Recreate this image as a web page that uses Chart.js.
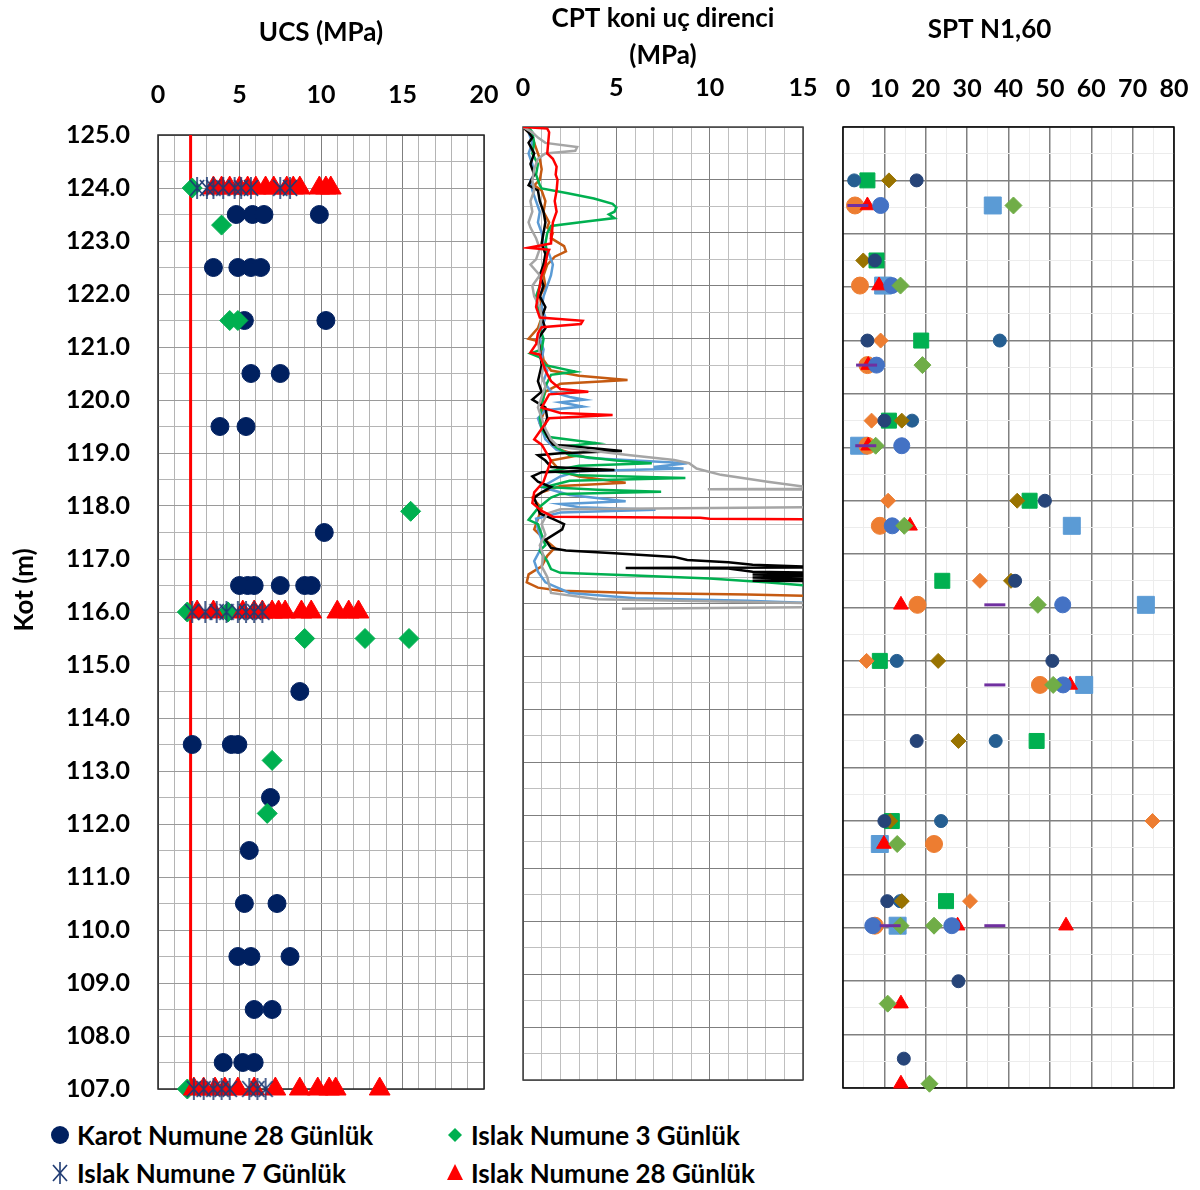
<!DOCTYPE html>
<html>
<head>
<meta charset="utf-8">
<script src="https://cdn.jsdelivr.net/npm/chart.js@4.4.1/dist/chart.umd.min.js"></script>
<style>
  body { margin: 0; background: #fff; width: 1200px; height: 1190px; position: relative; overflow: hidden; font-family: Lato, sans-serif; }
  canvas { position: absolute; top: 0; }
  .lg { position: absolute; font: bold 26px Lato, sans-serif; line-height: 30px; color: #000; white-space: nowrap; }
  .mk { position: absolute; }
</style>
</head>
<body>
<canvas id="ucs" width="500" height="1110" style="left:0"></canvas>
<canvas id="cpt" width="320" height="1110" style="left:500px"></canvas>
<canvas id="spt" width="380" height="1110" style="left:820px"></canvas>

<!-- legend -->
<svg class="mk" style="left:50px;top:1125px" width="20" height="20"><circle cx="10" cy="10" r="9" fill="#002060"/></svg>
<div class="lg" style="left:77px;top:1120px">Karot Numune 28 Günlük</div>
<svg class="mk" style="left:447px;top:1127px" width="16" height="16"><polygon points="8,1 15,8 8,15 1,8" fill="#00B050"/></svg>
<div class="lg" style="left:471px;top:1120px">Islak Numune 3 Günlük</div>
<svg class="mk" style="left:51px;top:1162px" width="18" height="22"><g stroke="#1F3B73" stroke-width="1.6"><line x1="2" y1="3" x2="16" y2="19"/><line x1="16" y1="3" x2="2" y2="19"/><line x1="9" y1="0" x2="9" y2="22"/></g></svg>
<div class="lg" style="left:77px;top:1158px">Islak Numune 7 Günlük</div>
<svg class="mk" style="left:446px;top:1163px" width="18" height="18"><polygon points="9,1 17,17 1,17" fill="#FF0000"/></svg>
<div class="lg" style="left:471px;top:1158px">Islak Numune 28 Günlük</div>

<script>
// ---------- UCS data : [UCS (MPa), Kot (m)] ----------
const karot28 = [
  [4.8,123.5],[5.8,123.5],[6.5,123.5],[9.9,123.5],
  [3.4,122.5],[4.9,122.5],[5.7,122.5],[6.3,122.5],
  [5.3,121.5],[10.3,121.5],
  [5.7,120.5],[7.5,120.5],
  [3.8,119.5],[5.4,119.5],
  [10.2,117.5],
  [5.0,116.5],[5.5,116.5],[5.9,116.5],[7.5,116.5],[9.0,116.5],[9.4,116.5],
  [8.7,114.5],
  [2.1,113.5],[4.5,113.5],[4.9,113.5],
  [6.9,112.5],
  [5.6,111.5],
  [5.3,110.5],[7.3,110.5],
  [4.9,109.5],[5.7,109.5],[8.1,109.5],
  [5.9,108.5],[7.0,108.5],
  [4.0,107.5],[5.2,107.5],[5.9,107.5]
];
const islak3 = [
  [2.1,124.0],[3.9,123.3],[4.4,121.5],[4.9,121.5],[15.5,117.9],
  [1.8,116.0],[4.3,116.0],[9.0,115.5],[12.7,115.5],[15.4,115.5],
  [7.0,113.2],[6.7,112.2],[1.8,107.0]
];
const islak7 = [
  [2.4,124],[3.0,124],[3.4,124],[4.0,124],[4.7,124],[5.1,124],[5.7,124],[7.5,124],[8.1,124],
  [2.1,116],[2.9,116],[3.6,116],[4.2,116],[4.9,116],[5.4,116],[5.9,116],[6.4,116],
  [2.2,107],[2.8,107],[3.4,107],[3.9,107],[4.4,107],[5.6,107],[6.1,107],[6.6,107]
];
const islak28 = [
  [3.4,124],[3.9,124],[4.4,124],[5.0,124],[5.5,124],[6.0,124],[6.6,124],[7.1,124],[7.9,124],[8.3,124],[8.7,124],[9.9,124],[10.3,124],[10.6,124],
  [2.4,116],[3.4,116],[5.2,116],[5.9,116],[6.4,116],[7.0,116],[7.4,116],[7.8,116],[8.8,116],[9.4,116],[11.0,116],[11.7,116],[12.3,116],
  [2.2,107],[2.8,107],[3.5,107],[4.1,107],[4.9,107],[5.9,107],[7.2,107],[8.7,107],[9.8,107],[10.5,107],[10.9,107],[13.6,107]
];
const ucsLimit = [[2,107],[2,125]];

// ---------- CPT data : [qc (MPa), derinlik (m)] ----------
const cptRed = [
  [0,0],[1.3,0.03],[1.4,0.1],[1.35,0.3],[1.3,0.5],[1.6,0.6],[1.8,0.75],[1.75,0.9],[1.85,1.0],[1.8,1.2],
  [1.7,1.4],[1.8,1.6],[1.6,1.8],[1.55,2.0],[1.5,2.2],[0.3,2.28],[1.4,2.32],[1.3,2.4],[1.2,2.6],[1.0,2.8],
  [0.9,3.0],[0.8,3.2],[0.7,3.4],[0.9,3.6],[3.2,3.66],[3.1,3.72],[1.0,3.78],[0.8,3.9],[0.7,4.1],[0.4,4.26],
  [0.9,4.3],[1.0,4.4],[1.2,4.6],[1.5,4.8],[2.0,4.95],[3.5,5.0],[1.4,5.05],[1.0,5.3],[2.0,5.4],[4.8,5.44],
  [1.4,5.5],[1.0,5.7],[0.6,5.9],[1.0,6.0],[1.5,6.3],[1.3,6.5],[1.1,6.7],[0.6,6.9],[0.5,7.1],[1.0,7.25],
  [1.6,7.36],[9.5,7.38],[10.0,7.4],[16,7.41]
];
const cptBlack = [
  [0,0],[0.3,0.1],[0.5,0.2],[0.3,0.3],[0.6,0.5],[0.4,0.7],[0.6,0.9],[0.3,1.1],[0.8,1.2],[0.9,1.4],
  [1.1,1.6],[1.2,1.8],[1.1,2.0],[1.0,2.2],[1.2,2.4],[1.1,2.6],[0.9,2.8],[1.1,3.0],[0.9,3.2],[1.2,3.4],
  [1.0,3.6],[1.2,3.8],[0.8,4.0],[0.9,4.2],[1.0,4.5],[0.8,4.8],[1.0,5.0],[0.5,5.15],[1.2,5.3],[1.3,5.5],
  [1.1,5.7],[1.4,5.9],[1.6,6.0],[4.2,6.08],[5.3,6.12],[2.0,6.16],[0.8,6.2],[1.2,6.3],[1.5,6.42],[4.9,6.48],
  [1.0,6.52],[0.5,6.6],[0.8,6.7],[1.5,6.8],[1.0,6.9],[0.6,7.0],[0.7,7.1],[0.9,7.3],[1.6,7.4],[2.2,7.5],
  [2.1,7.6],[1.2,7.8],[1.5,7.95],[2.3,8.0],[4.9,8.05],[8.1,8.12],[8.8,8.18],[11.0,8.22],[12.3,8.27],[16,8.31],
  [16,8.32],[5.5,8.33],[11.0,8.34],[12.3,8.4],[16,8.42],[12.3,8.45],[16,8.48],[12.3,8.51],[16,8.54],[12.3,8.57],[16,8.58]
];
const cptGreen = [
  [0.3,0],[0.5,0.1],[0.6,0.3],[0.5,0.5],[0.8,0.7],[0.7,0.9],[0.9,1.1],[1.0,1.16],[2.4,1.25],[3.8,1.35],
  [4.8,1.45],[5.0,1.52],[4.9,1.6],[4.6,1.65],[4.9,1.72],[3.5,1.78],[1.5,1.87],[1.3,2.0],[1.2,2.2],[1.3,2.4],
  [1.1,2.6],[1.0,2.8],[0.9,3.0],[0.7,3.2],[0.8,3.4],[1.0,3.6],[0.9,3.8],[1.1,4.0],[1.0,4.2],[0.4,4.28],
  [0.9,4.35],[1.2,4.5],[2.8,4.62],[1.5,4.68],[1.2,4.9],[1.1,5.1],[1.0,5.3],[0.9,5.5],[1.0,5.7],[1.3,5.85],
  [3.9,5.97],[1.8,6.05],[2.5,6.2],[5.0,6.3],[6.9,6.35],[3.0,6.4],[1.5,6.5],[3.0,6.58],[8.7,6.63],[2.5,6.68],
  [1.2,6.8],[4.0,6.85],[7.4,6.89],[2.0,6.93],[1.5,7.0],[0.8,7.2],[0.3,7.42],[0.8,7.5],[1.0,7.7],[1.2,7.9],
  [0.9,8.0],[1.3,8.2],[1.5,8.35],[2.0,8.42],[6.0,8.47],[10,8.53],[13,8.6],[16,8.68]
];
const cptBlue = [
  [0.1,0],[0.3,0.1],[0.5,0.3],[0.3,0.5],[0.5,0.7],[0.6,0.9],[0.4,1.0],[0.5,1.2],[0.7,1.4],[0.9,1.6],
  [0.8,1.8],[1.0,2.0],[1.1,2.2],[1.4,2.4],[1.6,2.6],[1.5,2.8],[1.3,3.0],[1.1,3.2],[1.0,3.4],[1.2,3.6],
  [1.0,3.8],[0.9,4.0],[1.1,4.2],[1.0,4.4],[1.3,4.6],[1.1,4.8],[1.5,5.0],[2.5,5.1],[3.3,5.15],[2.0,5.2],
  [3.2,5.28],[1.2,5.35],[0.8,5.5],[1.0,5.7],[1.2,5.9],[1.8,6.1],[3.5,6.25],[8.8,6.35],[7.0,6.42],[8.6,6.45],
  [3.0,6.5],[2.0,6.6],[1.0,6.8],[2.5,6.95],[5.5,7.07],[2.0,7.12],[3.0,7.18],[7.1,7.23],[2.0,7.28],[0.7,7.4],
  [0.8,7.6],[1.0,7.8],[0.9,8.0],[0.6,8.2],[0.8,8.4],[1.2,8.6],[2.5,8.8],[6,8.9],[12,8.95],[16,9.0]
];
const cptOrange = [
  [0,0],[0.3,0.1],[0.5,0.2],[0.7,0.4],[0.9,0.6],[1.0,0.8],[0.9,1.0],[0.6,1.1],[1.0,1.2],[1.2,1.4],
  [1.1,1.6],[1.4,1.8],[1.3,1.9],[1.6,2.0],[1.5,2.1],[2.2,2.25],[2.3,2.35],[1.7,2.45],[1.3,2.6],[1.1,2.8],
  [1.2,3.0],[0.9,3.2],[1.0,3.4],[1.0,3.6],[0.8,3.8],[0.3,4.0],[0.9,4.05],[1.0,4.2],[1.1,4.4],[1.5,4.6],
  [3.0,4.7],[5.6,4.78],[2.0,4.85],[1.2,5.0],[1.0,5.2],[1.1,5.4],[0.9,5.6],[1.2,5.8],[1.5,5.95],[2.0,6.1],
  [3.0,6.2],[1.5,6.3],[2.0,6.5],[3.0,6.6],[5.5,6.72],[2.0,6.78],[1.0,6.9],[0.5,7.0],[1.0,7.2],[0.8,7.4],
  [0.6,7.6],[1.2,7.8],[1.7,7.95],[1.3,8.1],[1.0,8.3],[0.3,8.45],[0.2,8.6],[0.8,8.7],[2.0,8.76],[6.0,8.8],
  [12,8.83],[16,8.86]
];
const cptGrey = [
  [0,0],[0.5,0.1],[0.8,0.2],[1.2,0.3],[2.9,0.38],[2.8,0.45],[1.2,0.5],[0.8,0.6],[0.6,0.8],[0.5,1.0],
  [0.6,1.2],[0.4,1.4],[0.5,1.6],[0.3,1.8],[0.4,1.9],[0.7,2.1],[0.9,2.3],[0.7,2.5],[0.4,2.6],[0.9,2.8],
  [0.5,3.0],[0.6,3.2],[0.9,3.4],[1.0,3.6],[0.9,3.8],[0.8,4.0],[0.9,4.3],[1.1,4.5],[1.0,4.7],[1.2,4.9],
  [1.0,5.1],[0.8,5.3],[1.0,5.5],[1.2,5.7],[1.5,5.9],[1.9,6.04],[5.5,6.19],[8.1,6.29],[8.9,6.35],[9.3,6.45],
  [10.6,6.57],[13.1,6.7],[15,6.79],[16,6.8],[16,6.83],[9.9,6.84],[16,6.85],[16,7.18],[2.0,7.22],[1.3,7.3],
  [1.0,7.5],[1.2,7.7],[0.9,7.9],[1.1,8.1],[1.0,8.3],[1.3,8.5],[1.5,8.8],[4,8.92],[12,8.97],[16,9.0],
  [16,9.07],[5.3,9.1]
];

// ---------- SPT N1,60 data : [N1,60, derinlik (m)] ----------
const sptA = [[17.8,1.0],[7.7,2.5],[5.9,4.0],[10.0,5.5],[48.8,7.0],[41.6,8.5],[50.6,10.0],[17.8,11.5],[10.0,13.0],[10.7,14.5],[27.9,16.0],[14.7,17.45]];
const sptB = [[2.7,1.0],[37.9,4.0],[16.7,5.5],[13.0,10.0],[36.9,11.5],[23.7,13.0],[13.8,14.5]];
const sptC = [[5.9,1.0],[8.1,2.5],[18.9,4.0],[11.1,5.5],[45.1,7.0],[24.0,8.5],[8.9,10.0],[46.8,11.5],[11.8,13.0],[24.9,14.5]];
const sptD = [[11.1,1.0],[4.9,2.5],[14.2,5.5],[42.1,7.0],[40.6,8.5],[23.0,10.0],[27.9,11.5],[11.4,13.0],[14.2,14.5]];
const sptE = [[9.1,4.0],[6.9,5.5],[10.9,7.0],[33.1,8.5],[5.7,10.0],[74.8,13.0],[30.7,14.5]];
const sptF = [[2.9,1.47],[4.1,2.97],[5.9,4.46],[5.9,5.97],[8.9,7.47],[18.0,8.95],[47.6,10.45],[22.0,13.43],[7.7,14.96]];
const sptG = [[5.9,1.47],[8.7,2.97],[6.1,4.46],[6.1,5.97],[16.2,7.47],[14.0,8.95],[54.9,10.45],[9.9,13.43],[27.7,14.96],[53.9,14.96],[14.0,16.42],[14.0,17.92]];
const sptH = [[9.1,1.47],[11.8,2.97],[8.1,4.46],[14.2,5.97],[11.9,7.47],[53.1,8.95],[53.2,10.45],[7.2,14.96],[26.3,14.96]];
const sptI = [[36.2,1.47],[9.7,2.97],[3.9,5.97],[55.3,7.47],[73.2,8.95],[58.3,10.45],[8.9,13.43],[13.2,14.96]];
const sptJ = [[41.2,1.47],[13.9,2.97],[19.2,4.46],[7.9,5.97],[14.8,7.47],[47.1,8.95],[50.8,10.45],[13.1,13.43],[13.9,14.96],[22.0,14.96],[10.8,16.42],[20.9,17.92]];
const sptK = [[3.6,1.47],[5.7,4.46],[5.5,5.97],[36.7,8.95],[36.7,10.45],[11.4,14.96],[36.7,14.96]];

// ---------- helpers ----------
const pts = arr => arr.map(([x, y]) => ({ x, y }));
const tickFont = { family: 'Lato', size: 25, weight: 'bold' };
const titleFont = { family: 'Lato', size: 26, weight: 'bold' };

// fixed axis box sizes, no extra side padding for the edge labels
const fixH = h => s => { s.height = h; s.paddingLeft = 0; s.paddingRight = 0; };
const fixW = w => s => { s.width = w; s.paddingTop = 0; s.paddingBottom = 0; };

// frame around the plot area (drawn under the markers)
const frame = {
  id: 'frame',
  beforeDatasetsDraw(chart, args, opts) {
    const a = chart.chartArea, ctx = chart.ctx;
    ctx.save();
    ctx.strokeStyle = opts.color;
    ctx.lineWidth = opts.width;
    ctx.strokeRect(a.left, a.top, a.right - a.left, a.bottom - a.top);
    ctx.restore();
  }
};

// excel style star marker: X with a vertical bar
const star = document.createElement('canvas');
star.width = 18; star.height = 22;
(() => {
  const c = star.getContext('2d');
  c.strokeStyle = '#1F3B73'; c.lineWidth = 1.6;
  c.beginPath();
  c.moveTo(2, 3); c.lineTo(16, 19);
  c.moveTo(16, 3); c.lineTo(2, 19);
  c.moveTo(9, 0); c.lineTo(9, 22);
  c.stroke();
})();

const marker = (label, data, style, r, color, extra) => Object.assign({
  label, data: pts(data), pointStyle: style, pointRadius: r,
  pointBackgroundColor: color, pointBorderColor: color, pointBorderWidth: 1, clip: false
}, extra || {});

const cptLine = (label, data, color) => ({
  label, data: pts(data), showLine: true, borderColor: color, borderWidth: 2.5,
  pointRadius: 0, tension: 0
});

const common = {
  responsive: false,
  animation: false,
  events: [],
  plugins: { legend: { display: false }, tooltip: { enabled: false } }
};

// ---------- UCS ----------
new Chart(document.getElementById('ucs'), {
  type: 'scatter',
  data: {
    datasets: [
      marker('Islak Numune 7 Günlük', islak7, star, 9, '#1F3B73'),
      marker('Islak Numune 28 Günlük', islak28, 'triangle', 12, '#FF0000'),
      marker('Islak Numune 3 Günlük', islak3, 'rectRot', 10, '#00B050'),
      marker('Karot Numune 28 Günlük', karot28, 'circle', 9, '#002060'),
      { label: 'limit', data: pts(ucsLimit), showLine: true, borderColor: '#FF0000', borderWidth: 3, pointRadius: 0 }
    ]
  },
  options: Object.assign({}, common, {
    layout: { padding: { left: 0, top: 0, right: 16, bottom: 21 } },
    plugins: Object.assign({}, common.plugins, { frame: { color: '#262626', width: 1.5 } }),
    scales: {
      x: {
        type: 'linear', position: 'top', min: 0, max: 20,
        afterFit: fixH(135),
        border: { display: false },
        grid: { drawTicks: false, color: c => c.tick.value % 5 === 0 ? '#7f7f7f' : '#b4b4b4' },
        ticks: { stepSize: 1, autoSkip: false, maxRotation: 0, padding: 25, color: '#000', font: tickFont,
                 callback: v => v % 5 === 0 ? v : '' },
        title: { display: true, text: 'UCS (MPa)', color: '#000', font: titleFont, padding: { top: 17, bottom: 0 } }
      },
      y: {
        type: 'linear', position: 'left', min: 107, max: 125,
        afterFit: fixW(158),
        border: { display: false },
        grid: { drawTicks: false, color: c => Number.isInteger(c.tick.value) ? '#9a9a9a' : '#b4b4b4' },
        ticks: { stepSize: 0.5, autoSkip: false, padding: 28, color: '#000', font: tickFont,
                 callback: v => Number.isInteger(v) ? v.toFixed(1) : '' },
        title: { display: true, text: '       Kot (m)', color: '#000', font: titleFont, padding: { top: 9, bottom: 0 } }
      }
    }
  }),
  plugins: [frame]
});

// ---------- CPT ----------
new Chart(document.getElementById('cpt'), {
  type: 'scatter',
  data: {
    datasets: [
      cptLine('CPT-1', cptRed, '#FF0000'),
      cptLine('CPT-6', cptGrey, '#A5A5A5'),
      cptLine('CPT-2', cptBlack, '#000000'),
      cptLine('CPT-3', cptGreen, '#00B050'),
      cptLine('CPT-4', cptBlue, '#5B9BD5'),
      cptLine('CPT-5', cptOrange, '#C55A11')
    ]
  },
  options: Object.assign({}, common, {
    layout: { padding: { left: 0, top: 0, right: 17, bottom: 30 } },
    plugins: Object.assign({}, common.plugins, { frame: { color: '#404040', width: 1.5 } }),
    scales: {
      x: {
        type: 'linear', position: 'top', min: 0, max: 15,
        afterFit: fixH(127),
        border: { display: false },
        grid: { drawTicks: false, color: c => c.tick.value % 5 === 0 ? '#7f7f7f' : '#bfbfbf' },
        ticks: { stepSize: 1, autoSkip: false, maxRotation: 0, padding: 24, color: '#000', font: tickFont,
                 callback: v => v % 5 === 0 ? v : '' },
        title: { display: true, text: ['CPT koni uç direnci', '(MPa)'], color: '#000',
                 font: { family: 'Lato', size: 26, weight: 'bold', lineHeight: 1.42 }, padding: { top: 0, bottom: 0 } }
      },
      y: {
        type: 'linear', position: 'left', min: 0, max: 18, reverse: true,
        afterFit: fixW(23),
        border: { display: false },
        grid: { drawTicks: false, color: c => Number.isInteger(c.tick.value) ? '#7f7f7f' : '#bfbfbf' },
        ticks: { display: false, stepSize: 0.5, autoSkip: false }
      }
    }
  }),
  plugins: [frame]
});

// ---------- SPT ----------
new Chart(document.getElementById('spt'), {
  type: 'scatter',
  data: {
    datasets: [
      marker('SK-11', sptK, 'line', 10.5, '#7030A0', { pointBorderWidth: 3 }),
      marker('SK-10', sptJ, 'rectRot', 8.5, '#70AD47'),
      marker('SK-8', sptH, 'circle', 8, '#4472C4'),
      marker('SK-7', sptG, 'triangle', 8.5, '#FF0000'),
      marker('SK-6', sptF, 'circle', 8.5, '#ED7D31'),
      marker('SK-9', sptI, 'rect', 12, '#5B9BD5'),
      marker('SK-1', sptA, 'circle', 6.5, '#264478'),
      marker('SK-4', sptD, 'rectRot', 7.5, '#997300'),
      marker('SK-5', sptE, 'rectRot', 7.5, '#ED7D31'),
      marker('SK-2', sptB, 'circle', 6.5, '#255E91'),
      marker('SK-3', sptC, 'rect', 10.6, '#00B050')
    ]
  },
  options: Object.assign({}, common, {
    layout: { padding: { left: 0, top: 0, right: 26, bottom: 22 } },
    plugins: Object.assign({}, common.plugins, { frame: { color: '#000', width: 1.5 } }),
    scales: {
      x: {
        type: 'linear', position: 'top', min: 0, max: 80,
        afterFit: fixH(127),
        border: { display: false },
        grid: { drawTicks: false, lineWidth: c => c.tick.value % 10 === 0 ? 1.5 : 1,
                color: c => c.tick.value % 10 === 0 ? '#808080' : '#ececec' },
        ticks: { stepSize: 5, autoSkip: false, maxRotation: 0, padding: 23, color: '#000', font: tickFont,
                 callback: v => v % 10 === 0 ? v : '' },
        title: { display: true, text: 'SPT N1,60      ', color: '#000', font: titleFont, padding: { top: 14, bottom: 0 } }
      },
      y: {
        type: 'linear', position: 'left', min: 0, max: 18, reverse: true,
        afterFit: fixW(23),
        border: { display: false },
        grid: { drawTicks: false, lineWidth: c => Number.isInteger(c.tick.value) ? 1.5 : 1,
                color: c => Number.isInteger(c.tick.value) ? '#808080' : '#ececec' },
        ticks: { display: false, stepSize: 0.5, autoSkip: false }
      }
    }
  }),
  plugins: [frame]
});
</script>
</body>
</html>
